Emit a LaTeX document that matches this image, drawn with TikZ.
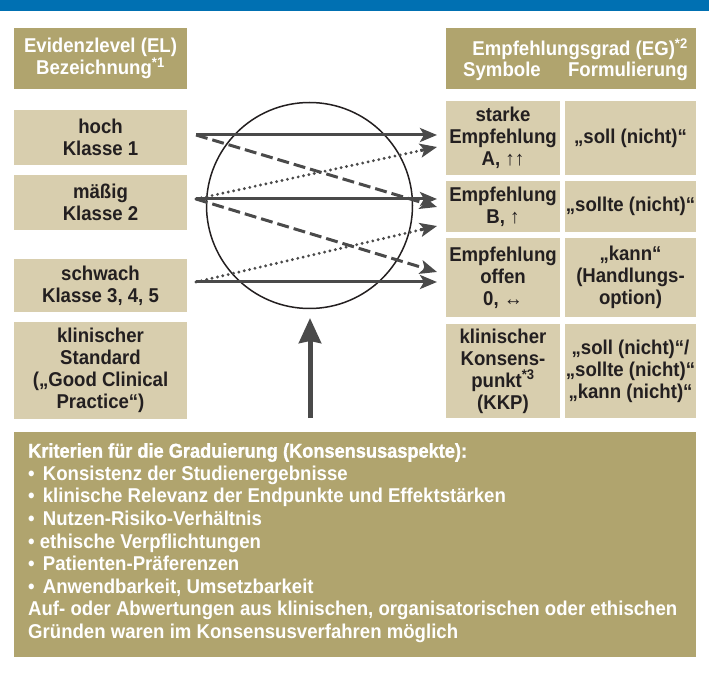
\documentclass[tikz,border=0pt]{standalone}
\usepackage{fontspec}
\setmainfont{Liberation Sans}[FakeStretch=0.93]
\newfontfamily\titelfont{Liberation Sans Bold}[FakeStretch=0.91,FakeBold=1.2]
\newfontfamily\pfeilfont{Liberation Sans}[FakeStretch=0.95]
\usepackage{xcolor}
\usetikzlibrary{arrows.meta,calc}

\definecolor{blau}{HTML}{0070B2}
\definecolor{oliv}{HTML}{B0A46E}
\definecolor{hell}{HTML}{D8CEAE}
\definecolor{dunkel}{HTML}{231F20}
\definecolor{grau}{HTML}{4A4A4A}

\begin{document}
\begin{tikzpicture}[x=1pt,y=-1pt,
    kopf/.style={fill=oliv,text=white,inner sep=0pt,align=center,font=\fontsize{20}{21}\selectfont\bfseries},
    feld/.style={fill=hell,text=dunkel,inner sep=0pt,align=center,font=\fontsize{20}{22}\selectfont\bfseries},
    pfeil/.style={draw=grau,line width=3pt,-{Stealth[length=17pt,width=14pt,inset=4pt]}},
    gestr/.style={pfeil,dash pattern=on 12pt off 5pt},
    gepunkt/.style={draw=grau,line width=3.2pt,line cap=round,dash pattern=on 0pt off 5.5pt,shorten >=14pt}]
                    \useasboundingbox (0,0) rectangle (709,684);
                    \fill[blau] (0,0) rectangle (709,11);

                    % Kopfzeilen
                    \node[kopf,minimum width=173pt,minimum height=61pt] (elKopf) at (100.5,58.5) {Evidenzlevel (EL)\\Bezeichnung\textsuperscript{*1}};
                    \node[kopf,minimum width=250pt,minimum height=61pt] (egKopf) at (571,58.5) {};
                    \node[kopf,anchor=base east] (egTitel) at (688,56) {Empfehlungsgrad (EG)\textsuperscript{*2}};
                    \node[kopf,anchor=base] (symKopf) at (502,77) {Symbole};
                    \node[kopf,anchor=base] (formKopf) at (628,77) {Formulierung};

                    % Evidenzlevel
                    \node[feld,minimum width=173pt,minimum height=55pt] (hoch) at (100.5,137.5) {hoch\\Klasse 1};
                    \node[feld,minimum width=173pt,minimum height=55pt] (mittel) at (100.5,202.5) {mäßig\\Klasse 2};
                    \node[feld,minimum width=173pt,minimum height=53pt] (schwach) at (100.5,285.5) {schwach\\Klasse 3, 4, 5};
                    \node[feld,minimum width=173pt,minimum height=97pt] (gcp) at (100.5,370.5) {klinischer\\Standard\\(„Good Clinical\\Practice“)};

                    % Empfehlungsgrade
                    \node[feld,minimum width=114pt,minimum height=74pt] (symA) at (503,138) {starke\\Empfehlung\\A, {\pfeilfont\mdseries ↑↑}};
                    \node[feld,minimum width=131pt,minimum height=74pt] (formA) at (630.5,138) {„soll (nicht)“};
                    \node[feld,minimum width=114pt,minimum height=51pt] (symB) at (503,206.5) {Empfehlung\\B, {\pfeilfont\mdseries ↑}};
                    \node[feld,minimum width=131pt,minimum height=51pt] (formB) at (630.5,206.5) {„sollte (nicht)“};
                    \node[feld,minimum width=114pt,minimum height=79pt] (sym0) at (503,277.5) {Empfehlung\\offen\\0, {\pfeilfont\mdseries ↔}};
                    \node[feld,minimum width=131pt,minimum height=79pt] (form0) at (630.5,277.5) {„kann“\\(Handlungs-\\option)};
                    \node[feld,minimum width=114pt,minimum height=94pt] (symKKP) at (503,371) {klinischer\\Konsens-\\punkt\textsuperscript{*3}\\(KKP)};
                    \node[feld,minimum width=131pt,minimum height=94pt] (formKKP) at (630.5,371) {„soll (nicht)“/\\„sollte (nicht)“\\„kann (nicht)“};

                    % Kreis und Pfeile
                    \draw[line width=1.5pt,dunkel] (309.5,205.5) circle (103pt);
                    \coordinate (l1) at (196,135);
                    \coordinate (l2) at (196,199);
                    \coordinate (l3) at (196,282);
                    \coordinate (rA) at (437,135);
                    \coordinate (rAp) at (437,147);
                    \coordinate (rB) at (437,199);
                    \coordinate (rBg) at (437,207);
                    \coordinate (rBp) at (437,226);
                    \coordinate (r0g) at (437,272);
                    \coordinate (r0) at (437,282);
                    \draw[gestr] (l1) -- (rBg);
                    \draw[gestr] (l2) -- (r0g);
                    \draw[gepunkt] (l2) -- (rAp);
                    \draw[pfeil] ($(rAp)!17pt!(l2)$) -- (rAp);
                    \draw[gepunkt] (l3) -- (rBp);
                    \draw[pfeil] ($(rBp)!17pt!(l3)$) -- (rBp);
                    \draw[pfeil] (l1) -- (rA);
                    \draw[pfeil] (l2) -- (rB);
                    \draw[pfeil] (l3) -- (r0);

                    % Kriterien
                    \node[fill=oliv,minimum width=682pt,minimum height=225pt,inner sep=0pt] (krit) at (355,544.5) {};
                    \coordinate (kritFuss) at (310,418);
                    \draw[draw=grau,line width=5pt,-{Stealth[length=25pt,width=22pt,inset=2pt]}] (kritFuss) -- (310,318);
                    \node[anchor=north west,text=white,align=left,inner sep=0pt,font=\fontsize{20}{22.6}\selectfont\bfseries] (kritText) at (28,443)
                        {{\titelfont Kriterien für die Graduierung (Konsensusaspekte):}\\
                         •\hspace{3pt} Konsistenz der Studienergebnisse\\
                         •\hspace{3pt} klinische Relevanz der Endpunkte und Effektstärken\\
                         •\hspace{3pt} Nutzen-Risiko-Verhältnis\\
                         • ethische Verpflichtungen\\
                         •\hspace{3pt} Patienten-Präferenzen\\
                         •\hspace{3pt} Anwendbarkeit, Umsetzbarkeit\\
                         Auf- oder Abwertungen aus klinischen, organisatorischen oder ethischen\\
                         Gründen waren im Konsensusverfahren möglich};
                \end{tikzpicture}
\end{document}
